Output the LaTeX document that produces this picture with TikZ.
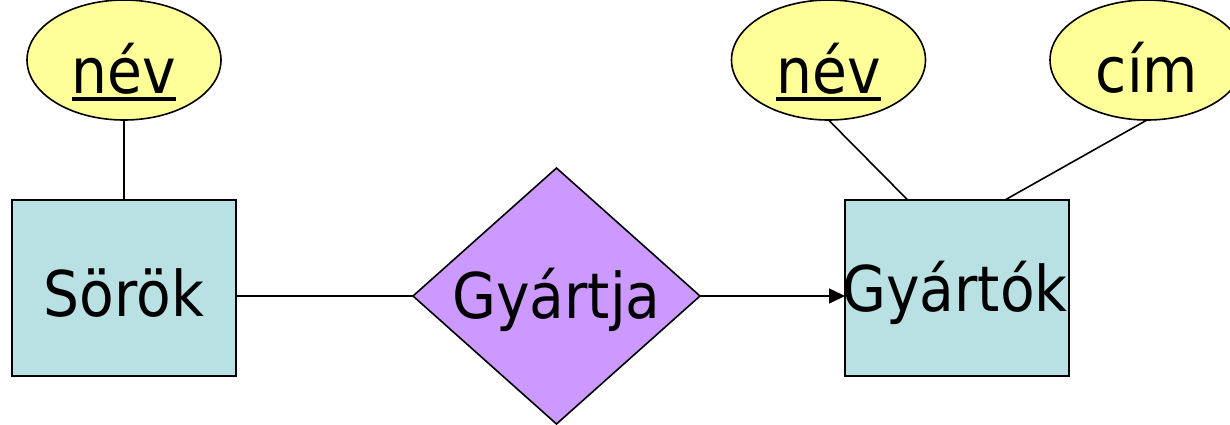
\documentclass[tikz,border=0pt]{standalone}
\usepackage{fontspec}
\setmainfont{DejaVu Sans Condensed}
\usetikzlibrary{shapes.geometric,arrows.meta,calc}
\definecolor{attrfill}{HTML}{FFFF99}
\definecolor{entfill}{HTML}{B9E0E3}
\definecolor{relfill}{HTML}{CC99FF}
\newcommand{\keyattr}[1]{\vtop{\hbox{#1}\kern3pt\hrule height 4pt}}
\tikzset{
  x=1pt, y=-1pt,
  every node/.style={inner sep=0pt, outer sep=0pt, font=\fontsize{63}{70}\selectfont},
  attr/.style={ellipse, draw, line width=1.6pt, fill=attrfill, minimum width=194pt, minimum height=120pt},
  entity/.style={rectangle, draw, line width=1.6pt, fill=entfill, minimum width=224pt, minimum height=176pt},
  rel/.style={diamond, draw, line width=1.6pt, fill=relfill, minimum width=287pt, minimum height=256pt},
  conn/.style={line width=1.6pt},
}
\begin{document}
\begin{tikzpicture}
\useasboundingbox (0,0) rectangle (1230,424);
\begin{scope}
\clip (0,0) rectangle (1230,424);
\node[attr] (nev1) at (124,60) {};
\node at (124,72) {\keyattr{név}};
\node[entity] (sorok) at (124,288) {};
\node at (124,293) {Sörök};
\node[rel] (gyartja) at (556.5,296) {};
\node at (556.5,300) {Gyártja};
\node[entity] (gyartok) at (957,288) {};
\node at (955,293) {Gyártók};
\node[attr] (nev2) at (828.5,60) {};
\node at (828.5,72) {\keyattr{név}};
\node[attr] (cim) at (1147,60) {};
\node at (1147,68) {cím};
\coordinate (g1) at ($(gyartok.north west)!0.28!(gyartok.north east)$);
\coordinate (g2) at ($(gyartok.north west)!0.714!(gyartok.north east)$);
\draw[conn] (nev1.south) -- (sorok.north);
\draw[conn] (sorok.east |- gyartja.west) -- (gyartja.west);
\draw[conn,-{Triangle[length=16pt,width=15pt]}] (gyartja.east) -- (gyartok.west |- gyartja.east);
\draw[conn] (nev2.south) -- (g1);
\draw[conn] (cim.south) -- (g2);
\end{scope}
\end{tikzpicture}
\end{document}
